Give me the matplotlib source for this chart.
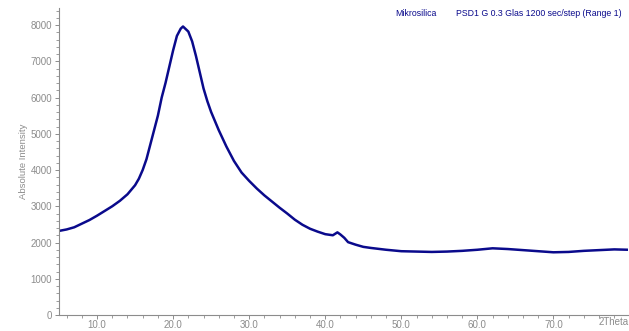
import numpy as np
import matplotlib.pyplot as plt
from matplotlib.ticker import MultipleLocator, FixedLocator

# values (2Theta, counts)
two_theta = [5.0, 6.0, 7.0, 8.0, 9.0, 10.0, 11.0, 12.0, 13.0, 14.0, 15.0, 15.5,
             16.0, 16.5, 17.0, 17.5, 18.0, 18.5, 19.0, 19.5, 20.0, 20.5, 21.0,
             21.3, 21.6, 22.0, 22.5, 23.0, 23.5, 24.0, 24.5, 25.0, 25.5, 26.0,
             27.0, 28.0, 29.0, 30.0, 31.0, 32.0, 33.0, 34.0, 35.0, 36.0, 37.0,
             38.0, 39.0, 40.0, 41.0, 41.6, 42.0, 42.5, 43.0, 44.0, 45.0, 46.0,
             48.0, 50.0, 52.0, 54.0, 56.0, 58.0, 60.0, 62.0, 64.0, 66.0, 68.0,
             70.0, 72.0, 74.0, 76.0, 78.0, 79.8]
counts = [2320, 2360, 2420, 2520, 2620, 2740, 2870, 3000, 3150, 3330, 3580, 3760,
          4000, 4300, 4700, 5100, 5500, 6000, 6400, 6850, 7300, 7700, 7900,
          7960, 7900, 7820, 7550, 7150, 6700, 6250, 5900, 5600, 5350, 5100,
          4650, 4250, 3930, 3700, 3490, 3300, 3130, 2960, 2800, 2630, 2490,
          2380, 2300, 2230, 2200, 2280, 2220, 2130, 2010, 1940, 1880, 1850,
          1800, 1760, 1750, 1740, 1750, 1770, 1800, 1840, 1820, 1790, 1760,
          1730, 1740, 1770, 1790, 1810, 1800]

grey = "#8c8c8c"
navy = "#0a0a8c"

plt.rcParams['font.family'] = ['Liberation Sans', 'DejaVu Sans']

fig = plt.figure(figsize=(6.29, 3.31), dpi=100)
ax = fig.add_axes([59/629, 1-315/331, (628-59)/629, (315-8)/331])
ax.plot(two_theta, counts, c=navy, linewidth=1.8)

ax.set_xlim(5, 79.8)
ax.set_ylim(0, 8470)
for s in ["top", "right"]:
    ax.spines[s].set_visible(False)
for s in ["left", "bottom"]:
    ax.spines[s].set_color(grey)
    ax.spines[s].set_linewidth(0.8)

ax.xaxis.set_major_locator(FixedLocator([10, 20, 30, 40, 50, 60, 70]))
ax.xaxis.set_minor_locator(MultipleLocator(2))
ax.set_xticklabels(["10.0", "20.0", "30.0", "40.0", "50.0", "60.0", "70.0"])
ax.yaxis.set_major_locator(MultipleLocator(1000))
ax.yaxis.set_minor_locator(MultipleLocator(200))
ax.tick_params(which="both", colors=grey, labelsize=7, direction="out")
ax.tick_params(which="major", length=3, width=0.7)
ax.tick_params(axis="x", which="major", pad=0.5)
ax.tick_params(axis="y", which="major", pad=2)
ax.tick_params(which="minor", length=2, width=0.6)
ax.set_ylabel("Absolute Intensity", color=grey, fontsize=6.8, labelpad=2)

fig.text(614/629, 1-322/331, "2Theta", ha="center", va="center",
         color=grey, fontsize=7)
fig.text(395/629, 1-14/331, "Mikrosilica", color=navy, fontsize=6.3, va="center")
fig.text(456/629, 1-14/331, "PSD1 G 0.3 Glas 1200 sec/step (Range 1)",
         color=navy, fontsize=6.3, va="center")

fig.savefig("out.png", dpi=100)
plt.close()
